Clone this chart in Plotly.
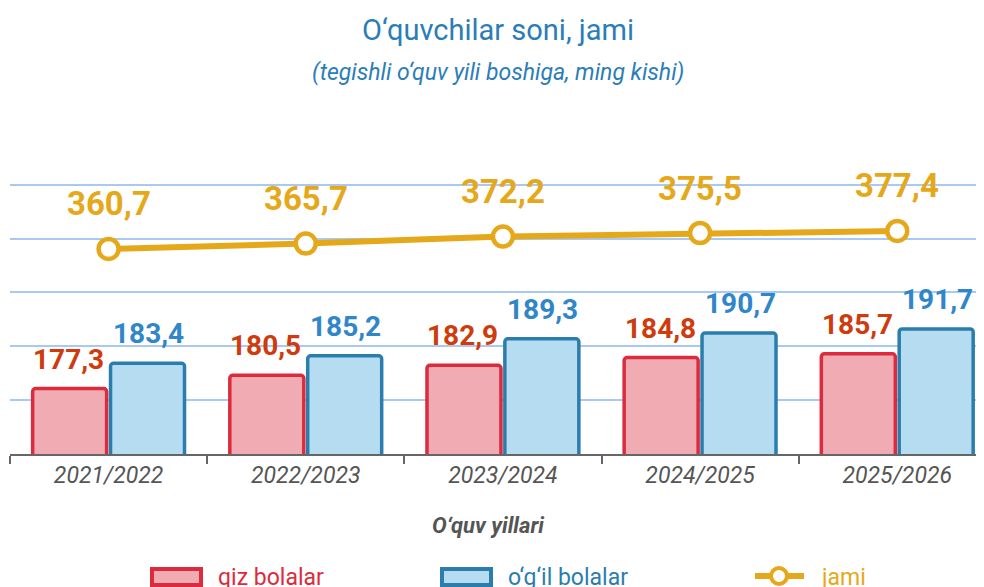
import plotly.graph_objects as go

# data
years = ["2021/2022", "2022/2023", "2023/2024", "2024/2025", "2025/2026"]
girls = [177.3, 180.5, 182.9, 184.8, 185.7]
boys = [183.4, 185.2, 189.3, 190.7, 191.7]
total = [360.7, 365.7, 372.2, 375.5, 377.4]

RED_EDGE = "#dc2b3d"
RED_FILL = "#f1abb3"
RED_TEXT = "#cf3b0c"
BLUE_EDGE = "#2a7dad"
BLUE_FILL = "#b6dcf1"
BLUE_TEXT = "#2f86c9"
GOLD = "#e5a81a"
TITLE_BLUE = "#2b7db8"
FONT = "Roboto"


def fmt(v):
    return f"{v:.1f}".replace(".", ",")


fig = go.Figure()

fig.add_trace(go.Bar(
    x=years, y=girls, name="qiz bolalar", offsetgroup="a",
    marker=dict(color=RED_FILL, line=dict(color=RED_EDGE, width=3.5), cornerradius=3),
))
fig.add_trace(go.Bar(
    x=years, y=boys, name="o‘g‘il bolalar", offsetgroup="b",
    marker=dict(color=BLUE_FILL, line=dict(color=BLUE_EDGE, width=3.5), cornerradius=3),
))
fig.add_trace(go.Scatter(
    x=years, y=total, name="jami", yaxis="y2",
    mode="lines+markers",
    line=dict(color=GOLD, width=6),
    marker=dict(size=20, color="white", line=dict(color=GOLD, width=4.5)),
    cliponaxis=False,
))

# value labels
for yr, g, b, t in zip(years, girls, boys, total):
    fig.add_annotation(x=yr, y=g, xref="x", yref="y", text=f"<b>{fmt(g)}</b>",
                       showarrow=False, yanchor="bottom", xshift=-40, yshift=11,
                       font=dict(family=FONT, size=28, color=RED_TEXT))
    fig.add_annotation(x=yr, y=b, xref="x", yref="y", text=f"<b>{fmt(b)}</b>",
                       showarrow=False, yanchor="bottom", xshift=40, yshift=11,
                       font=dict(family=FONT, size=28, color=BLUE_TEXT))
    fig.add_annotation(x=yr, y=t, xref="x", yref="y2", text=f"<b>{fmt(t)}</b>",
                       showarrow=False, yshift=45,
                       font=dict(family=FONT, size=33, color=GOLD))

# page has an 8px body margin; positions below are in page pixels
# plot area: x 10..984 px, y 150..454 px
PW, PT, PB = 974, 150, 454
OFF = 8


def px(x):
    return (x - 10) / PW


def py(y):
    return (PB - y) / (PB - PT)


def label(x, y, text, size, color, xanchor="center"):
    fig.add_annotation(x=px(x), y=py(y), xref="paper", yref="paper",
                       xanchor=xanchor, yanchor="middle", showarrow=False,
                       text=text, font=dict(family=FONT, size=size, color=color))


label(498, 30, "O‘quvchilar soni, jami", 29, TITLE_BLUE)
label(498, 72, "<i>(tegishli o‘quv yili boshiga, ming kishi)</i>", 23, TITLE_BLUE)
label(488, 525, "<b><i>O‘quv yillari</i></b>", 22, "#555555")

# custom legend
legend_items = [
    (150, RED_FILL, RED_EDGE, "qiz bolalar"),
    (440, BLUE_FILL, BLUE_EDGE, "o‘g‘il bolalar"),
]
for x0, fill, edge, name in legend_items:
    fig.add_shape(type="rect", xref="paper", yref="paper",
                  x0=px(x0 + 2), x1=px(x0 + 51), y0=py(569), y1=py(585),
                  fillcolor=fill, line=dict(color=edge, width=4))
    label(x0 + 66, 577, name, 23, edge, xanchor="left")
fig.add_shape(type="line", xref="paper", yref="paper",
              x0=px(755), x1=px(804), y0=py(576), y1=py(576),
              line=dict(color=GOLD, width=6))
fig.add_shape(type="circle", xref="paper", yref="paper",
              x0=px(771), x1=px(787), y0=py(568), y1=py(584),
              fillcolor="white", line=dict(color=GOLD, width=4))
label(819, 577, "jami", 23, GOLD, xanchor="left")

fig.update_layout(
    width=984 - OFF, height=587 - OFF,
    margin=dict(l=10 - OFF, r=0, t=PT - OFF, b=587 - PB),
    plot_bgcolor="white", paper_bgcolor="white",
    barmode="group", bargap=0.21, bargroupgap=0.05,
    showlegend=False,
    font=dict(family=FONT),
    xaxis=dict(
        range=[-0.5, 4.44], showline=True, linecolor="#666666", linewidth=1.5,
        ticks="outside", tickson="boundaries", ticklen=8, tickcolor="#666666",
        tickwidth=1.5, showgrid=False,
        tickfont=dict(family=FONT, size=23, color="#555555", style="italic"),
    ),
    yaxis=dict(
        range=[161.5, 234.9], tick0=161.5, dtick=13, showticklabels=False,
        showgrid=True, gridcolor="#a9c9f2", gridwidth=1.5, zeroline=False,
    ),
    yaxis2=dict(
        range=[170.5, 452.5], overlaying="y", showgrid=False,
        showticklabels=False, zeroline=False,
    ),
)

fig.write_html("out.html")
